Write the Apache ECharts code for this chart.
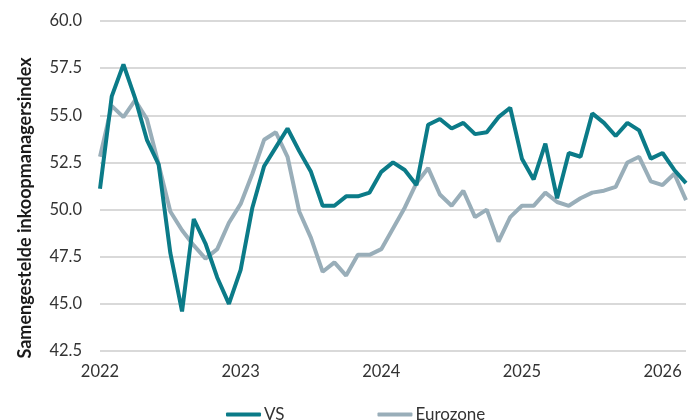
<!DOCTYPE html>
<html>
<head>
<meta charset="utf-8">
<script src="https://cdn.jsdelivr.net/npm/echarts@6/dist/echarts.min.js"></script>
<style>html,body{margin:0;padding:0;background:#fff}#c{width:698px;height:420px}</style>
</head>
<body>
<div id="c"></div>
<script>
// Months Jan 2022 .. Mar 2026
const months = [];
for (let y = 2022; y <= 2026; y++) for (let m = 1; m <= 12; m++) { if (y === 2026 && m > 3) break; months.push(y + '-' + (m < 10 ? '0' + m : m)); }

const vsValues = [51.1, 56.0, 57.7, 55.9, 53.7, 52.4, 47.7, 44.6, 49.5, 48.2, 46.4, 45.0,
  46.8, 50.1, 52.3, 53.3, 54.3, 53.1, 52.0, 50.2, 50.2, 50.7, 50.7, 50.9,
  52.0, 52.5, 52.1, 51.3, 54.5, 54.8, 54.3, 54.6, 54.0, 54.1, 54.9, 55.4,
  52.7, 51.6, 53.5, 50.6, 53.0, 52.8, 55.1, 54.6, 53.9, 54.6, 54.2, 52.7,
  53.0, 52.1, 51.4];

const euroValues = [52.8, 55.5, 54.9, 55.8, 54.8, 52.4, 49.9, 48.9, 48.1, 47.4, 47.9, 49.3,
  50.3, 51.9, 53.7, 54.1, 52.8, 49.9, 48.5, 46.7, 47.2, 46.5, 47.6, 47.6,
  47.9, 49.0, 50.1, 51.4, 52.2, 50.8, 50.2, 51.0, 49.6, 50.0, 48.3, 49.6,
  50.2, 50.2, 50.9, 50.4, 50.2, 50.6, 50.9, 51.0, 51.2, 52.5, 52.8, 51.5,
  51.3, 51.9, 50.5];

const seriesNames = ['VS', 'Eurozone'];
const yAxisTitle = 'Samengestelde inkoopmanagersindex';

const chart = echarts.init(document.getElementById('c'), null, {renderer: 'canvas'});
const FONT = 'Lato';
chart.setOption({
  animation: false,
  textStyle: {fontFamily: FONT},
  grid: {left: 100, right: 12, top: 21, bottom: 69},
  legend: {
    data: seriesNames,
    left: 221, top: 401,
    icon: 'roundRect', itemWidth: 35, itemHeight: 4, itemGap: 93,
    textStyle: {fontFamily: FONT, fontSize: 17, color: '#333', padding: [0, 0, 0, -2]}
  },
  xAxis: {
    type: 'category', data: months, boundaryGap: false,
    axisLine: {show: false}, axisTick: {show: false},
    axisLabel: {
      interval: (idx) => idx % 12 === 0,
      formatter: (v) => v.slice(0, 4),
      fontFamily: FONT, fontSize: 16.5, color: '#333', margin: 12
    },
    splitLine: {show: false}
  },
  yAxis: {
    type: 'value', min: 42.5, max: 60, interval: 2.5,
    axisLine: {show: false}, axisTick: {show: false},
    axisLabel: {formatter: (v) => v.toFixed(1), fontFamily: FONT, fontSize: 16.5, color: '#333', margin: 18},
    splitLine: {lineStyle: {color: '#d9d9d9', width: 2}}
  },
  graphic: [{
    type: 'text', x: 25, y: 208, rotation: Math.PI / 2,
    style: {text: yAxisTitle, font: 'bold 18px Lato', fill: '#1a1a1a', align: 'center', verticalAlign: 'middle'}
  }],
  series: [
    {name: seriesNames[0], type: 'line', data: vsValues, showSymbol: false, symbol: 'none',
     lineStyle: {color: '#0b7b88', width: 4}, itemStyle: {color: '#0b7b88'}, z: 3},
    {name: seriesNames[1], type: 'line', data: euroValues, showSymbol: false, symbol: 'none',
     lineStyle: {color: '#99aeb9', width: 4}, itemStyle: {color: '#99aeb9'}, z: 2}
  ]
});
</script>
</body>
</html>
